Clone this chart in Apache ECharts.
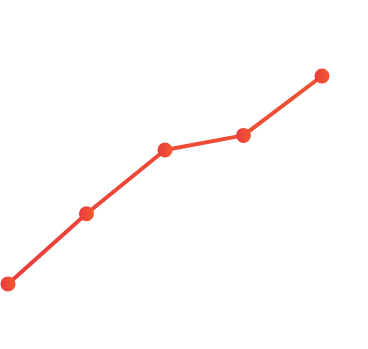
<!DOCTYPE html>
<html>
<head>
<meta charset="utf-8">
<script src="https://cdn.jsdelivr.net/npm/echarts@6/dist/echarts.min.js"></script>
<style>html,body{margin:0;padding:0;background:#fff;}#c{width:368px;height:349px;}</style>
</head>
<body>
<div id="c"></div>
<script>
var categories = ['A', 'B', 'C', 'D', 'E'];
var values = [13, 39, 62.6, 68, 90];

var chart = echarts.init(document.getElementById('c'), null, {renderer: 'canvas'});
var markerGrad = new echarts.graphic.LinearGradient(0, 0, 1, 0, [
  {offset: 0, color: '#ea3a40'},
  {offset: 1, color: '#f25a2e'}
]);
var lineGrad = new echarts.graphic.LinearGradient(0, 1, 0, 0, [
  {offset: 0, color: '#eb3d3e'},
  {offset: 1, color: '#f05232'}
]);
chart.setOption({
  animation: false,
  grid: {left: 8, right: 46, top: 49, bottom: 30},
  xAxis: {
    type: 'category',
    data: categories,
    boundaryGap: false,
    show: false
  },
  yAxis: {
    type: 'value',
    min: 0,
    max: 100,
    show: false
  },
  series: [{
    type: 'line',
    data: values,
    symbol: 'circle',
    symbolSize: 15,
    lineStyle: {width: 4, color: lineGrad},
    itemStyle: {color: markerGrad}
  }]
});
</script>
</body>
</html>
